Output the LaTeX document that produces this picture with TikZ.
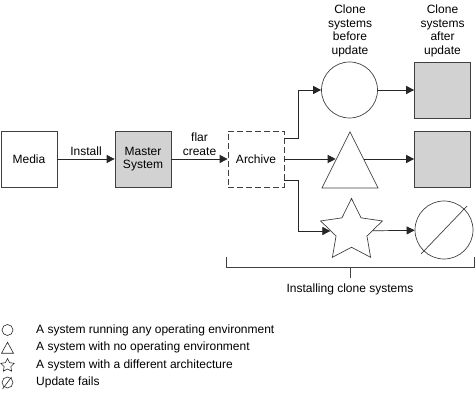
\documentclass[tikz,border=0pt]{standalone}
\usepackage{fontspec}
\setmainfont{Liberation Sans}
\usepackage{tikz}
\usetikzlibrary{shapes.geometric,arrows.meta}

\begin{document}
\begin{tikzpicture}[x=1pt, y=1pt,
    every node/.style={font=\fontsize{12}{13.5}\selectfont},
    box/.style={draw=black!75, line width=0.7pt, minimum width=56, minimum height=56, inner sep=0, align=center},
    flow/.style={draw=black!85, line width=0.7pt, -{Triangle[length=8pt,width=8pt]}},
    bracket/.style={draw=black!75, line width=0.7pt},
    icon/.style={draw=black!85, line width=0.6pt, inner sep=0, minimum width=11, minimum height=11},
    key/.style={anchor=west, inner sep=0}]

	\definecolor{shade}{RGB}{210,210,210}

	\useasboundingbox (0,0) rectangle (476,-419);

	%% Draw main boxes
    \node[box]                                   (media)   at (29,-159)  {Media};
    \node[box, fill=shade]                       (master)  at (143,-159) {Master\\System};
    \node[box, dash pattern=on 6pt off 3pt]      (archive) at (256,-159) {Archive};

	%% Draw clone systems
    \node[box, circle]                           (before1) at (349.5,-90) {};
    \node[box, isosceles triangle, isosceles triangle stretches, shape border rotate=90, anchor=apex]
                                                 (before2) at (350,-131)  {};
    \node[box, star, star points=5, star point ratio=2.0, minimum size=65]
                                                 (before3) at (351.5,-231) {};
    \node[box, fill=shade]                       (after1)  at (442.5,-90)  {};
    \node[box, fill=shade]                       (after2)  at (442.5,-159) {};
    \node[box, circle, minimum size=58]          (after3)  at (444,-230)   {};
    \draw[bracket] ([shift={(-23,-24)}]after3.center) -- ([shift={(23,24)}]after3.center);

	%% Draw column headings
    \node[align=center] (head1) at (350,-31)   {Clone\\systems\\before\\update};
    \node[align=center] (head2) at (442.5,-31) {Clone\\systems\\after\\update};

	%% Draw arrows
    \draw[flow] (media)  -- (master)  node[midway, above] {Install};
    \draw[flow] (master) -- (archive) node[midway, above, align=center] {flar\\create};
    \draw[flow] ([yshift=21]archive.east)  -- ++(14,0) |- (before1);
    \draw[flow] (archive.east) -- (archive.east -| before2.left side);
    \draw[flow] ([yshift=-21]archive.east) -- ++(14,0) |- (before3);
    \draw[flow] (before1) -- (after1);
    \draw[flow] (after2.west -| before2.right side) -- (after2);
    \draw[flow] (before3) -- (after3);

	%% Draw bracket
    \draw[bracket] (226,-257) |- (474,-267) -- (474,-257);
    \draw[bracket] (350,-267) -- (350,-278);
    \node (installing) at (350,-289) {Installing clone systems};

	%% Draw legend
    \node[icon, circle]                          (keycircle)   at (7.5,-330)   {};
    \node[icon, isosceles triangle, isosceles triangle stretches, shape border rotate=90, minimum width=12, anchor=apex]
                                                 (keytriangle) at (7.5,-341.5) {};
    \node[icon, star, star points=5, star point ratio=2.0, minimum size=14]
                                                 (keystar)     at (7.5,-365.5) {};
    \node[icon, circle]                          (keyfail)     at (7.5,-382.5) {};
    \draw[icon] ([shift={(-5,-6.5)}]keyfail.center) -- ([shift={(4,5.5)}]keyfail.center);

    \node[key] (textcircle)   at (36,-330)   {A system running any operating environment};
    \node[key] (texttriangle) at (36,-347.5) {A system with no operating environment};
    \node[key] (textstar)     at (36,-365)   {A system with a different architecture};
    \node[key] (textfail)     at (36,-382.5) {Update fails};
\end{tikzpicture}
\end{document}
